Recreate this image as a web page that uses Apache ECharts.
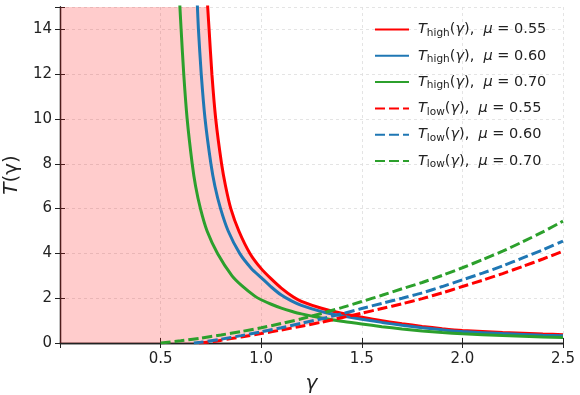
<!DOCTYPE html>
<html>
<head>
<meta charset="utf-8">
<script src="https://cdn.jsdelivr.net/npm/echarts@6/dist/echarts.min.js"></script>
<style>
  html, body { margin: 0; padding: 0; background: #fff; }
  #chart { width: 580px; height: 395px; }
</style>
</head>
<body>
<div id="chart"></div>
<script>
// values, [gamma, T]
const muLabels = ['0.55', '0.60', '0.70'];
const colors = ['#ff0000', '#1f77b4', '#2ca02c'];
const xTicks = [0.5, 1.0, 1.5, 2.0, 2.5];
const yTicks = [0, 2, 4, 6, 8, 10, 12, 14];

const highMu055 = [[0.729,16],[0.734,15],[0.741,14],[0.755,12],[0.774,10],[0.803,8],[0.823,7],[0.849,6],[0.889,5],[0.944,4],[1.0,3.32],[1.05,2.86],[1.1,2.45],[1.16,2.05],[1.2,1.86],[1.3,1.55],[1.4,1.33],[1.5,1.15],[1.6,0.99],[1.7,0.86],[1.8,0.74],[1.9,0.64],[2.0,0.56],[2.2,0.47],[2.4,0.40],[2.5,0.37]];
const highMu060 = [[0.678,16],[0.683,15],[0.688,14],[0.702,12],[0.721,10],[0.750,8],[0.770,7],[0.798,6],[0.836,5],[0.893,4],[0.952,3.32],[1.0,2.92],[1.05,2.5],[1.1,2.14],[1.15,1.88],[1.2,1.68],[1.3,1.40],[1.4,1.21],[1.5,1.06],[1.6,0.92],[1.7,0.79],[1.8,0.68],[1.9,0.59],[2.0,0.51],[2.2,0.42],[2.4,0.35],[2.5,0.32]];
const highMu070 = [[0.592,16],[0.596,15],[0.602,14],[0.615,12],[0.632,10],[0.657,8],[0.674,7],[0.698,6],[0.731,5],[0.783,4],[0.855,3.0],[0.905,2.55],[0.97,2.08],[1.0,1.93],[1.05,1.73],[1.1,1.56],[1.15,1.42],[1.2,1.30],[1.3,1.12],[1.4,0.97],[1.5,0.85],[1.6,0.73],[1.7,0.63],[1.8,0.54],[1.9,0.47],[2.0,0.41],[2.2,0.33],[2.4,0.27],[2.5,0.25]];

const lowMu055 = [[0.69,0],[0.75,0.05],[0.8,0.12],[0.9,0.27],[1.0,0.42],[1.1,0.58],[1.2,0.75],[1.3,0.93],[1.4,1.13],[1.5,1.33],[1.6,1.54],[1.7,1.75],[1.8,1.98],[1.9,2.24],[2.0,2.52],[2.1,2.8],[2.2,3.1],[2.3,3.42],[2.4,3.75],[2.5,4.10]];
const lowMu060 = [[0.665,0],[0.7,0.03],[0.8,0.17],[0.9,0.33],[1.0,0.50],[1.1,0.68],[1.2,0.88],[1.3,1.08],[1.4,1.30],[1.5,1.54],[1.6,1.77],[1.7,2.0],[1.8,2.24],[1.9,2.52],[2.0,2.82],[2.1,3.12],[2.2,3.44],[2.3,3.8],[2.4,4.16],[2.5,4.55]];
const lowMu070 = [[0.5,0],[0.6,0.1],[0.7,0.22],[0.8,0.36],[0.9,0.51],[1.0,0.68],[1.1,0.87],[1.2,1.08],[1.3,1.32],[1.4,1.58],[1.5,1.85],[1.6,2.13],[1.7,2.42],[1.8,2.70],[1.9,3.02],[2.0,3.36],[2.1,3.72],[2.2,4.1],[2.3,4.52],[2.4,4.96],[2.5,5.44]];

const highData = [highMu055, highMu060, highMu070];
const lowData = [lowMu055, lowMu060, lowMu070];

// shaded band between T_low and T_high for mu=0.55 (where T_high > T_low)
const xMin = 0, xMax = 2.5, yMin = 0, yMax = 15;
const bandEnd = 1.4;
const upper = [[xMin, yMax]].concat(highMu055.filter(p => p[1] <= yMax && p[0] <= bandEnd));
const lower = lowMu055.filter(p => p[0] <= bandEnd).slice().reverse().concat([[xMin, yMin]]);
const fillPoly = upper.concat(lower);

const font = 'DejaVu Sans';
const ink = '#222';

const series = [];
series.push({
  type: 'custom',
  silent: true,
  z: 1,
  data: [[0, 0]],
  renderItem: (params, api) => ({
    type: 'polygon',
    shape: { points: fillPoly.map(p => api.coord(p)) },
    style: { fill: 'rgba(255,0,0,0.2)' }
  })
});
const names = [];
highData.forEach((d, i) => {
  const name = 'high' + muLabels[i];
  names.push(name);
  series.push({
    name: name, type: 'line', data: d, symbol: 'none', smooth: 0.2,
    lineStyle: { color: colors[i], width: 3 }, itemStyle: { color: colors[i] }, z: 3
  });
});
lowData.forEach((d, i) => {
  const name = 'low' + muLabels[i];
  names.push(name);
  series.push({
    name: name, type: 'line', data: d, symbol: 'none', smooth: 0.2,
    lineStyle: { color: colors[i], width: 3, type: [10, 4] }, itemStyle: { color: colors[i] }, z: 4
  });
});

const tickStyle = { inside: true, length: 5, lineStyle: { color: ink, width: 1 } };
const lineStyleAxis = { lineStyle: { color: ink, width: 1.3 } };
const gridLine = { show: true, lineStyle: { color: '#dddddd', width: 0.8, type: [3, 3] } };

const chart = echarts.init(document.getElementById('chart'), null, { renderer: 'canvas' });
chart.setOption({
  animation: false,
  backgroundColor: '#fff',
  grid: { left: 60, right: 17, top: 7, bottom: 52, containLabel: false, outerBoundsMode: 'none' },
  legend: {
    data: names,
    orient: 'vertical',
    left: 369,
    top: 17,
    itemWidth: 34,
    itemHeight: 14,
    itemGap: 9.8,
    itemStyle: { color: 'rgba(0,0,0,0)', borderWidth: 0, opacity: 0 },
    formatter: name => {
      const kind = name.startsWith('high') ? 'high' : 'low';
      const mu = name.slice(kind.length);
      return '{i|T}{s|' + kind + '}(' + '{i|γ}),  {i|μ} = ' + mu;
    },
    textStyle: {
      fontFamily: font, fontSize: 14.5, color: ink, padding: [0, 0, 0, 4],
      rich: {
        i: { fontFamily: font, fontSize: 14.5, fontStyle: 'italic', color: ink },
        s: { fontFamily: font, fontSize: 10.5, color: ink, padding: [7, 0, 0, 0] }
      }
    }
  },
  xAxis: [{
    type: 'value', min: xMin, max: xMax, interval: 0.5,
    axisLine: lineStyleAxis, axisTick: tickStyle, splitLine: gridLine,
    axisLabel: {
      fontFamily: font, fontSize: 15, color: ink, margin: 9,
      formatter: v => xTicks.indexOf(v) >= 0 ? v.toFixed(1) : ''
    },
    name: 'γ', nameLocation: 'middle', nameGap: 31,
    nameTextStyle: { fontFamily: font, fontSize: 20, fontStyle: 'italic', color: ink }
  }, {
    type: 'value', position: 'top', min: xMin, max: xMax, interval: 0.5,
    axisLine: lineStyleAxis, axisTick: tickStyle, axisLabel: { show: false }, splitLine: { show: false }
  }],
  yAxis: [{
    type: 'value', min: yMin, max: yMax, interval: 2,
    axisLine: lineStyleAxis, axisTick: tickStyle, splitLine: gridLine,
    axisLabel: {
      fontFamily: font, fontSize: 15, color: ink, margin: 8,
      formatter: v => yTicks.indexOf(v) >= 0 ? String(v) : ''
    },
    name: '{i|T}(γ)', nameLocation: 'middle', nameGap: 33, nameRotate: 90,
    nameTextStyle: {
      fontFamily: font, fontSize: 20, color: ink,
      rich: { i: { fontFamily: font, fontSize: 20, fontStyle: 'italic', color: ink } }
    }
  }, {
    type: 'value', position: 'right', min: yMin, max: yMax, interval: 2,
    axisLine: lineStyleAxis, axisTick: tickStyle, axisLabel: { show: false }, splitLine: { show: false }
  }],
  series: series
});
</script>
</body>
</html>
